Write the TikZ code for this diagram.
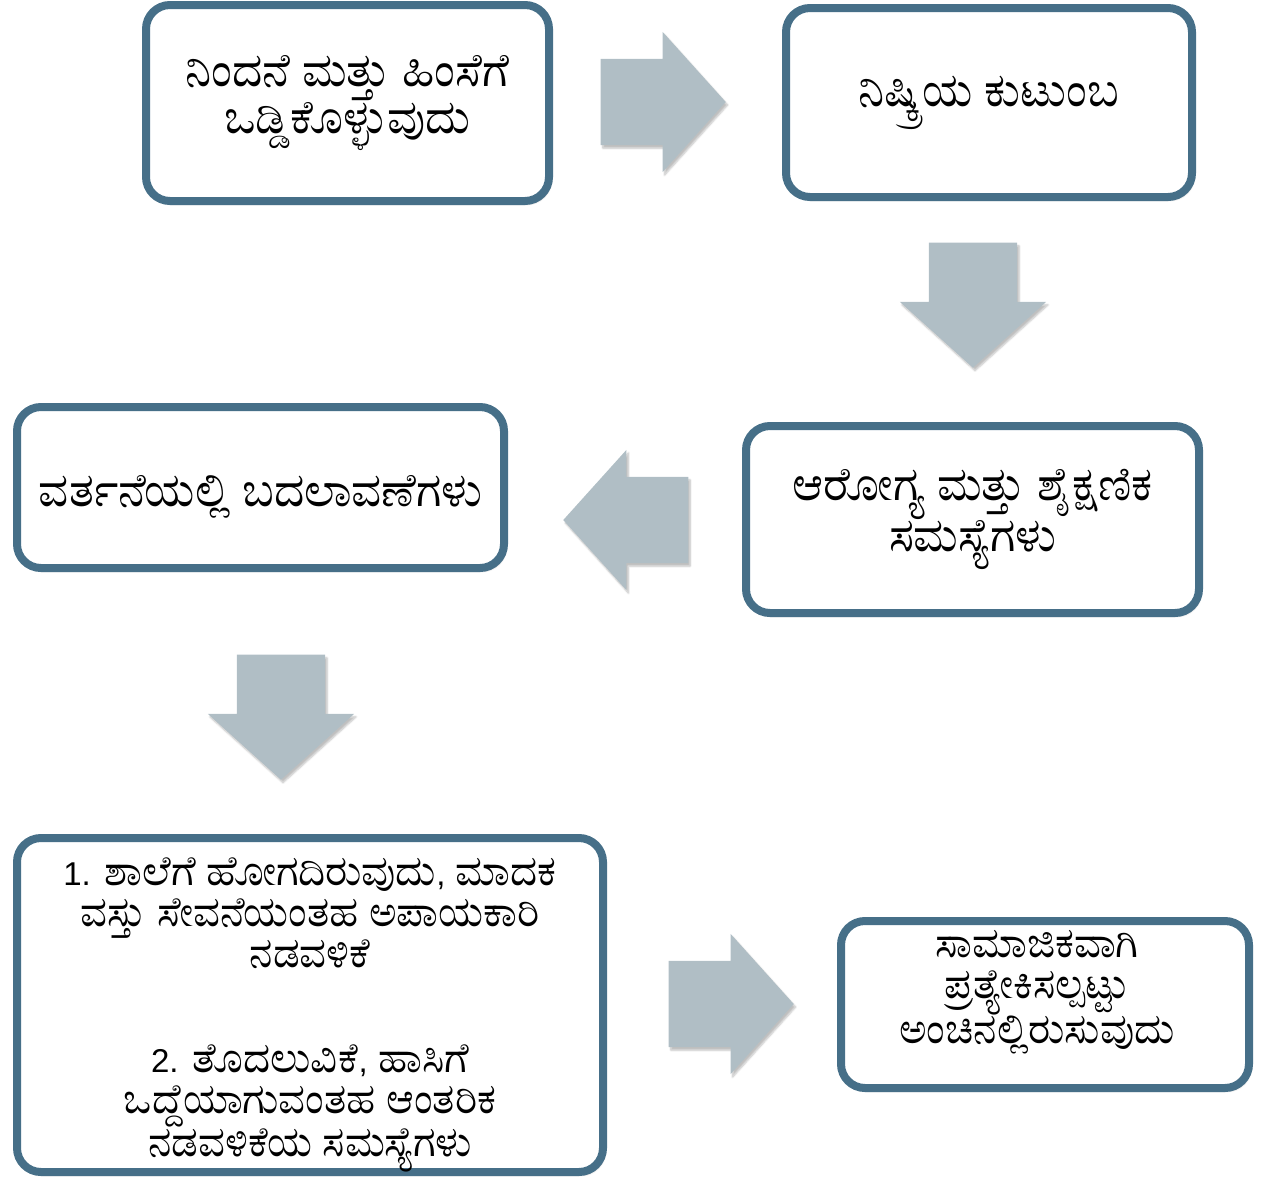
\documentclass[tikz,border=0pt]{standalone}
\usepackage{fontspec}
\newfontfamily\kanfont[Script=Kannada]{FreeSerif}
\newfontfamily\numfont{Liberation Sans}
\newcommand\numtxt[1]{{\numfont\fontsize{33}{41}\selectfont #1}}
\usetikzlibrary{positioning}
\usetikzlibrary{shapes.arrows}
\usetikzlibrary{shadows.blur}
\definecolor{boxline}{RGB}{70,111,136}
\definecolor{arrowfill}{RGB}{176,190,197}

\begin{document}
\begin{tikzpicture}[x=1pt,y=-1pt,
			box/.style = {
				draw=boxline, line width=8pt, fill=white,
				rounded corners=24pt, align=center, inner sep=0pt,
				blur shadow={shadow xshift=2pt, shadow yshift=-3pt,
					shadow blur steps=6, shadow opacity=30}
			},
			bigtext/.style = {font=\kanfont\fontsize{47}{47}\selectfont},
			smalltext/.style = {font=\kanfont\fontsize{42}{41}\selectfont},
			flow/.style = {
				single arrow, fill=arrowfill, draw=none,
				inner xsep=0pt, inner ysep=43pt,
				minimum height=125pt, minimum width=140pt,
				single arrow head extend=27pt, single arrow tip angle=96,
				blur shadow={shadow xshift=2pt, shadow yshift=-3pt,
					shadow blur steps=6, shadow opacity=25}
			},
			flowdown/.style = {flow, shape border rotate=270,
				inner xsep=44pt, inner ysep=0pt,
				minimum width=145pt, single arrow head extend=29pt}]
			\useasboundingbox (0,0) rectangle (1264,1176);
			% boxes
			\node (abuse) [box, bigtext, minimum width=403pt, minimum height=196pt]
				at (347.5,103) {ನಿಂದನೆ ಮತ್ತು ಹಿಂಸೆಗೆ\\ಒಡ್ಡಿಕೊಳ್ಳುವುದು};
			\node (family) [box, bigtext, minimum width=406pt, minimum height=189pt]
				at (989,102.5) {ನಿಷ್ಕ್ರಿಯ ಕುಟುಂಬ};
			\node (health) [box, bigtext, minimum width=453pt, minimum height=187pt]
				at (972.5,519.5) {ಆರೋಗ್ಯ ಮತ್ತು ಶೈಕ್ಷಣಿಕ\\ಸಮಸ್ಯೆಗಳು};
			\node (behave) [box, minimum width=487pt, minimum height=161pt,
				label={[bigtext, yshift=-9pt]center:ವರ್ತನೆಯಲ್ಲಿ ಬದಲಾವಣೆಗಳು}]
				at (260.5,487.5) {};
			\node (risk) [box, minimum width=586pt, minimum height=334pt,
				label={[smalltext, align=center, yshift=-10pt]center:{\numtxt{1.} ಶಾಲೆಗೆ ಹೋಗದಿರುವುದು\numtxt{,} ಮಾದಕ\\ವಸ್ತು ಸೇವನೆಯಂತಹ ಅಪಾಯಕಾರಿ\\ನಡವಳಿಕೆ\\[64pt]\numtxt{2.} ತೊದಲುವಿಕೆ\numtxt{,} ಹಾಸಿಗೆ\\ಒದ್ದೆಯಾಗುವಂತಹ ಆಂತರಿಕ\\ನಡವಳಿಕೆಯ ಸಮಸ್ಯೆಗಳು}}]
				at (310,1005) {};
			\node (isolate) [box, minimum width=408pt, minimum height=167pt,
				label={[smalltext, align=center, xshift=-8pt, yshift=12pt]center:{ಸಾಮಾಜಿಕವಾಗಿ\\ಪ್ರತ್ಯೇಕಿಸಲ್ಪಟ್ಟು\\ಅಂಚಿನಲ್ಲಿರುಸುವುದು}}]
				at (1045,1004.5) {};
			% block arrows
			\node (a1) [flow, anchor=tip] at (726,102) {};
			\node (a2) [flowdown, anchor=tip] at (973,368) {};
			\node (a3) [flow, shape border rotate=180, anchor=tip] at (563,520) {};
			\node (a4) [flowdown, anchor=tip] at (281,780) {};
			\node (a5) [flow, anchor=tip] at (794,1004) {};
		\end{tikzpicture}
\end{document}
